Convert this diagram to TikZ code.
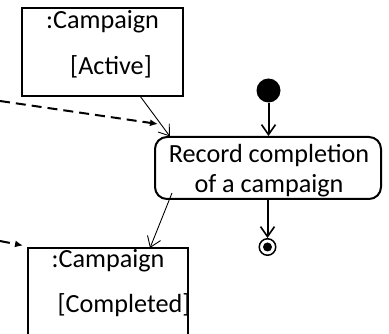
\documentclass[tikz,border=0pt]{standalone}
\usepackage{fontspec}
\setmainfont{Carlito}
\usetikzlibrary{arrows.meta,calc}
\begin{document}
\begin{tikzpicture}[x=1pt,y=1pt,
  objbox/.style={draw,line width=2pt,inner sep=0pt},
  actbox/.style={draw,line width=2pt,rounded corners=12pt,inner sep=0pt},
  lbl/.style={font=\fontsize{26.2}{30}\selectfont,inner sep=0pt,anchor=base},
  objflow/.style={line width=0.9pt,-{Straight Barb[length=10pt,width=14pt,line width=0.9pt]}},
  ctrlflow/.style={line width=2pt,-{Straight Barb[length=10pt,width=14pt,line width=1.6pt]}},
  depflow/.style={line width=2pt,dash pattern=on 10pt off 6pt,-{Latex[length=8pt,width=7pt]}},
  initnode/.style={circle,fill=black,minimum size=24pt,inner sep=0pt},
  finalnode/.style={circle,draw,line width=1.5pt,minimum size=16.5pt,inner sep=0pt},
  finaldot/.style={circle,fill=black,minimum size=9pt,inner sep=0pt}]
\useasboundingbox (0,0) rectangle (389,-334);
% top object box
\node[objbox,minimum width=161pt,minimum height=88pt] (obj1) at (102.5,-52) {};
\node[lbl] (obj1name) at (102.5,-29) {:Campaign};
\node[lbl] (obj1state) at (111,-75) {[Active]};
% bottom object box (extends below picture)
\node[objbox,minimum width=160pt,minimum height=110pt] (obj2) at (108,-303) {};
\node[lbl] (obj2name) at (108,-268) {:Campaign};
\node[lbl] (obj2state) at (124,-313) {[Completed]};
% action
\node[actbox,minimum width=226pt,minimum height=62pt] (act) at (268,-168) {};
\node[lbl] (acttext1) at (269,-162.3) {Record completion};
\node[lbl] (acttext2) at (269,-192.3) {of a campaign};
% initial and final
\node[initnode] (init) at (268.5,-90.5) {};
\node[finalnode] (final) at (267.5,-247) {};
\node[finaldot] (finaldot) at (final.center) {};
% control flows
\draw[ctrlflow] (init) -- (init |- act.north);
\draw[ctrlflow] (final |- act.south) -- (final.north);
% object flows
\coordinate (o1out) at (140,-96);
\coordinate (actin) at (170,-136.5);
\draw[objflow] (o1out) -- (actin);
\coordinate (actout) at (172,-193);
\coordinate (o2in) at (150,-248);
\draw[objflow] (actout) -- (o2in);
% dashed incoming
\coordinate (ext1) at (0,-101);
\coordinate (tip1) at (158,-124);
\draw[depflow] (ext1) -- (tip1);
\coordinate (ext2) at (0,-241);
\coordinate (tip2) at (23,-245.5);
\draw[depflow] (ext2) -- (tip2);
\end{tikzpicture}
\end{document}
